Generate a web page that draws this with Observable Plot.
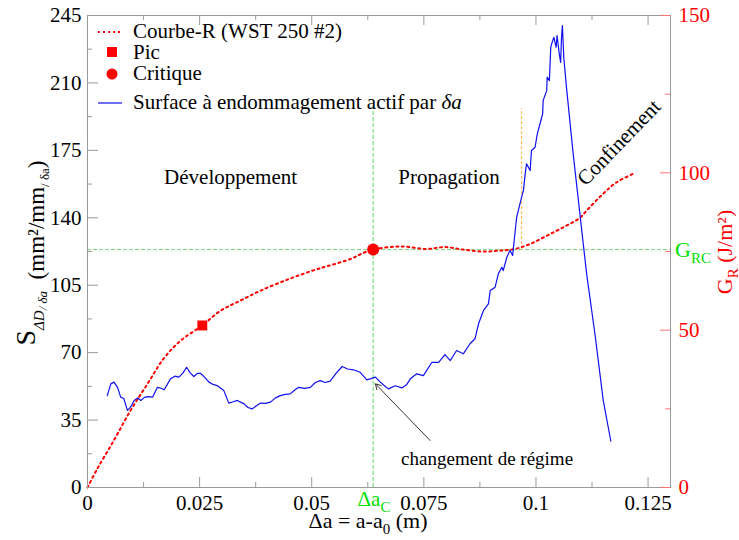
<!DOCTYPE html>
<html>
<head>
<meta charset="utf-8">
<script src="https://cdn.jsdelivr.net/npm/d3@7"></script>
<script src="https://cdn.jsdelivr.net/npm/@observablehq/plot@0.6"></script>
<style>
  body { margin: 0; background: #fff; }
  svg, svg text, svg tspan { font-family: "Liberation Serif", "Times New Roman", "DejaVu Serif", serif !important; }
</style>
</head>
<body>
<div id="chart"></div>
<script>
// Blue series: Surface à endommagement actif par δa (left axis, mm²/mm)
const blueX = [0.0044,0.0052,0.0059,0.0067,0.0074,0.0081,0.0089,0.0096,0.0104,0.0112,0.0119,0.0127,0.0134,0.0145,0.0156,0.0164,0.0171,0.0185,0.0195,0.0204,0.0213,0.0221,0.0229,0.0237,0.0245,0.0252,0.0262,0.0271,0.0280,0.0289,0.0304,0.0315,0.0325,0.0334,0.0349,0.0358,0.0367,0.0376,0.0386,0.0397,0.0408,0.0419,0.0430,0.0441,0.0452,0.0462,0.0471,0.0484,0.0497,0.0508,0.0519,0.0530,0.0541,0.0555,0.0568,0.0580,0.0593,0.0608,0.0623,0.0632,0.0642,0.0653,0.0664,0.0671,0.0686,0.0701,0.0712,0.0720,0.0734,0.0749,0.0768,0.0783,0.0797,0.0809,0.0823,0.0838,0.0853,0.0864,0.0872,0.0883,0.0894,0.0898,0.0909,0.0916,0.0924,0.0927,0.0935,0.0942,0.0948,0.0953,0.0957,0.0968,0.0972,0.0976,0.0979,0.0987,0.0990,0.0998,0.1003,0.1009,0.1015,0.1016,0.1024,0.1025,0.1030,0.1033,0.1035,0.1040,0.1045,0.1047,0.1052,0.1055,0.1057,0.1059,0.1062,0.1068,0.1083,0.1098,0.1113,0.1132,0.1150,0.1167];
const blueS = [47.7,53.8,54.7,52,46.9,46.2,40,41.7,45.2,46.5,45.2,46.8,47.2,46.9,52,51.5,50.7,56.4,57.8,57.3,59.5,62.4,59.5,57.6,59.2,59.3,57,54.7,53.5,52.9,50.3,43.8,44.5,45.2,43.4,41.5,40.8,42.3,43.8,43.7,44.3,46.5,47.7,48.3,48.6,50.6,52,51.5,52,54.5,55.5,54.5,55.2,59.5,62.8,61.5,61.1,59.8,55.9,56.5,57.3,54.7,52.4,51.2,52.8,51.7,53.5,56.4,59,58.1,65,65,69,65.9,71.1,69.4,74.6,77.2,85,91.9,95.3,102.2,104,110.9,114.3,112.6,119.5,123,120.4,131.7,140.3,150.7,154.1,162.8,168,164.5,174.9,176.6,183.6,188.8,194,200.9,206,213,211.2,228.5,230.3,233.7,228.5,234.6,225.1,220.7,233.7,239.8,223.3,207.8,173.2,142,110.9,78.9,45.2,24];

// Red series: Courbe-R (WST 250 #2) (right axis, J/m²)
const redX = [0,0.0022,0.0059,0.0096,0.0134,0.017,0.0208,0.0256,0.0297,0.0341,0.0385,0.0452,0.0510,0.0534,0.0586,0.0610,0.0637,0.0700,0.0755,0.0797,0.0838,0.0882,0.0920,0.0953,0.0987,0.1024,0.1061,0.1098,0.1113,0.1150,0.1180,0.1217];
const redG = [0,6,15,24.5,33,41,46.7,51.5,56.2,59.4,62.5,66.4,69.3,70.3,72.6,74.2,75.6,76.6,75.8,76.4,75.6,75,75.3,75.8,77.4,80,82.7,85.7,88,93.4,97,99.7];

// Special points
const pic = {x: 0.0256, g: 51.5};
const critique = {x: 0.0637, g: 75.6};
const orangeMark = {x: 0.0968, g1: 75.6, g2: 120.4};
const deltaACTop = 198;

// Axes
const xDomain = [0, 0.13];
const yLeftDomain = [0, 245];
const yRightMax = 150;
const xTicksMajor = [0, 0.025, 0.05, 0.075, 0.1, 0.125];
const xTicksMinor = [0.0125, 0.0375, 0.0625, 0.0875, 0.1125];
const yLeftMajor = [0, 35, 70, 105, 140, 175, 210, 245];
const yLeftMinor = [17.5, 52.5, 87.5, 122.5, 157.5, 192.5, 227.5];
const yRightMajor = [0, 50, 100, 150];
const yRightMinor = [25, 75, 125];

// Annotations
const regionLabels = [
  {text: "Développement", x: 0.0319, s: 161},
  {text: "Propagation", x: 0.0806, s: 161}
];
const confinementLabel = {text: "Confinement", x: 0.1185, s: 179, rotate: -46};
const regimeLabel = {text: "changement de régime", x: 0.0891, s: 15};
const regimeArrow = {x1: 0.0764, s1: 24.4, x2: 0.0642, s2: 53.8};

// ---- build ----
const k = yLeftDomain[1] / yRightMax;
const blue = blueX.map((x, i) => ({x, s: blueS[i]}));
const red = redX.map((x, i) => ({x, s: redG[i] * k}));

const W = 739, H = 540, mL = 87, mR = 69, mT = 15, mB = 53;
const pw = W - mL - mR, ph = H - mT - mB;
const axisGray = "#9a9a9a";
const green = "#00dd00";
const FF = "'Liberation Serif', 'Times New Roman', serif";

const plot = Plot.plot({
  width: W, height: H,
  marginLeft: mL, marginRight: mR, marginTop: mT, marginBottom: mB,
  style: {fontFamily: FF, fontSize: "21px", background: "#fff", color: "#000"},
  x: {domain: xDomain},
  y: {domain: yLeftDomain},
  marks: [
    Plot.ruleY([critique.g * k], {stroke: "#7ccf7c", strokeWidth: 1, strokeDasharray: "4,2"}),
    Plot.ruleX([critique], {x: "x", y1: 0, y2: deltaACTop, stroke: "#55e055", strokeWidth: 1, strokeDasharray: "4,2"}),
    Plot.ruleX([orangeMark], {x: "x", y1: d => d.g1 * k, y2: d => d.g2 * k, stroke: "#ffb040", strokeWidth: 1, strokeDasharray: "3,2"}),
    Plot.line(red, {x: "x", y: "s", stroke: "#ff0000", strokeWidth: 2, strokeDasharray: "2,3.5", curve: "catmull-rom"}),
    Plot.line(blue, {x: "x", y: "s", stroke: "#1010f0", strokeWidth: 1.2}),
    Plot.dot([pic], {x: "x", y: d => d.g * k, symbol: "square", r: 5.6, fill: "#ff0000"}),
    Plot.dot([critique], {x: "x", y: d => d.g * k, r: 6, fill: "#ff0000"}),
    Plot.text(regionLabels, {x: "x", y: "s", text: "text", fontSize: 21, fill: "#000"}),
    Plot.text([confinementLabel], {x: "x", y: "s", text: "text", rotate: confinementLabel.rotate, fontSize: 21, fill: "#000"}),
    Plot.text([regimeLabel], {x: "x", y: "s", text: "text", fontSize: 19, fill: "#000"}),
    Plot.arrow([regimeArrow], {x1: "x1", y1: "s1", x2: "x2", y2: "s2", stroke: "#333", strokeWidth: 1, headLength: 9}),
    Plot.frame({stroke: axisGray}),
    Plot.tickY(yLeftMajor, {y: d => d, stroke: axisGray, insetRight: pw - 11}),
    Plot.tickY(yLeftMinor, {y: d => d, stroke: axisGray, insetRight: pw - 5}),
    Plot.tickY(yRightMajor, {y: d => d * k, stroke: "#ff7070", insetLeft: pw - 10}),
    Plot.tickY(yRightMinor, {y: d => d * k, stroke: "#ff7070", insetLeft: pw - 5}),
    Plot.tickX(xTicksMajor, {x: d => d, stroke: axisGray, insetTop: ph - 10}),
    Plot.tickX(xTicksMinor, {x: d => d, stroke: axisGray, insetTop: ph - 5}),
    Plot.tickX(xTicksMajor, {x: d => d, stroke: axisGray, insetBottom: ph - 10}),
    Plot.tickX(xTicksMinor, {x: d => d, stroke: axisGray, insetBottom: ph - 5}),
    Plot.axisY({ticks: yLeftMajor, tickSize: 0, tickPadding: 6, label: null, fontSize: 21, fill: "#000"}),
    Plot.axisY({anchor: "right", ticks: yRightMajor.map(v => v * k), tickFormat: d => String(Math.round(d / k)), tickSize: 0, tickPadding: 8, label: null, fontSize: 21, fill: "#ff0000"}),
    Plot.axisX({ticks: xTicksMajor, tickFormat: d => String(+d.toFixed(4)), tickSize: 0, tickPadding: 8, label: null, fontSize: 21, fill: "#000"})
  ]
});

document.getElementById("chart").appendChild(plot);

// ---- legend & axis titles (text with subscripts) ----
const svg = d3.select(plot);
const g = svg.append("g").attr("font-family", FF).attr("text-anchor", "start");

g.append("line").attr("x1", 98).attr("x2", 122).attr("y1", 32).attr("y2", 32)
  .attr("stroke", "#ff0000").attr("stroke-width", 2).attr("stroke-dasharray", "2,3");
g.append("text").attr("x", 133).attr("y", 38).attr("font-size", 21).text("Courbe-R (WST 250 #2)");
g.append("rect").attr("x", 107).attr("y", 47).attr("width", 10).attr("height", 10).attr("fill", "#ff0000");
g.append("text").attr("x", 133).attr("y", 59).attr("font-size", 21).text("Pic");
g.append("circle").attr("cx", 112).attr("cy", 74).attr("r", 5.5).attr("fill", "#ff0000");
g.append("text").attr("x", 133).attr("y", 80).attr("font-size", 21).text("Critique");
g.append("line").attr("x1", 98).attr("x2", 122).attr("y1", 103).attr("y2", 103)
  .attr("stroke", "#1010f0").attr("stroke-width", 1.2);
const lt = g.append("text").attr("x", 133).attr("y", 109).attr("font-size", 21);
lt.append("tspan").text("Surface à endommagement actif par ");
lt.append("tspan").attr("font-style", "italic").text("δa");

const xt = g.append("text").attr("x", 368).attr("y", 528).attr("text-anchor", "middle").attr("font-size", 22);
xt.append("tspan").text("Δa = a-a");
xt.append("tspan").attr("font-size", 15).attr("dy", 6).text("0");
xt.append("tspan").attr("dy", -6).text(" (m)");

const dc = g.append("text").attr("x", 374).attr("y", 506).attr("text-anchor", "middle").attr("font-size", 21).attr("fill", green);
dc.append("tspan").text("Δa");
dc.append("tspan").attr("font-size", 15).attr("dy", 6).text("C");

const gr = g.append("text").attr("x", 675).attr("y", 257).attr("font-size", 22).attr("fill", green);
gr.append("tspan").text("G");
gr.append("tspan").attr("font-size", 15).attr("dy", 6).text("RC");

const rt = g.append("text").attr("transform", "translate(732,252) rotate(-90)").attr("text-anchor", "middle").attr("font-size", 22).attr("fill", "#ff0000");
rt.append("tspan").text("G");
rt.append("tspan").attr("font-size", 15).attr("dy", 6).text("R");
rt.append("tspan").attr("dy", -6).text(" (J/m²)");

const yt = g.append("text").attr("transform", "translate(44,253) rotate(-90)").attr("text-anchor", "middle").attr("font-size", 23).attr("fill", "#000");
yt.append("tspan").attr("font-size", 28).attr("dy", -9).text("S");
yt.append("tspan").attr("font-size", 15).attr("font-style", "italic").attr("dy", 9).text("ΔD");
yt.append("tspan").attr("font-size", 13).attr("font-style", "italic").attr("dy", 3).text("/ δa");
yt.append("tspan").attr("dy", -3).text("  (mm²/mm");
yt.append("tspan").attr("font-size", 13).attr("dy", 5).text("/ δa");
yt.append("tspan").attr("dy", -5).text(")");
</script>
</body>
</html>
